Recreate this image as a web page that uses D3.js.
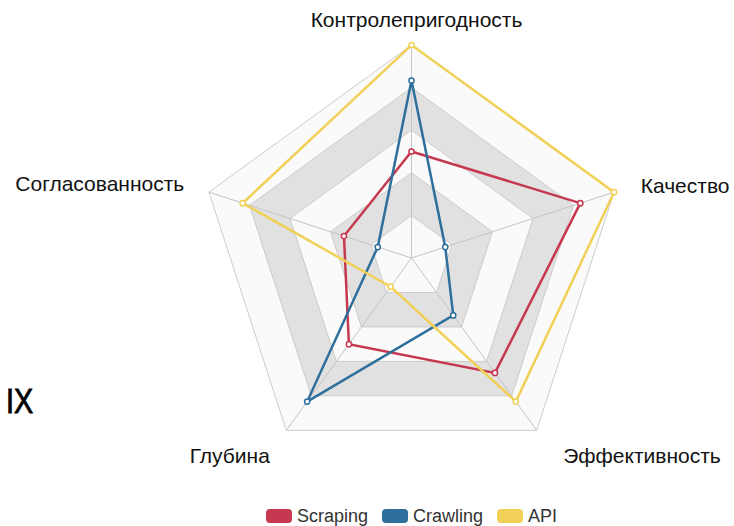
<!DOCTYPE html>
<html>
<head>
<meta charset="utf-8">
<script src="https://cdn.jsdelivr.net/npm/d3@7/dist/d3.min.js"></script>
<style>
  body { margin: 0; background: #fff; }
  svg { display: block; font-family: "Liberation Sans", Arial, sans-serif; }
</style>
</head>
<body>
<div id="chart"></div>
<script>
var axes = ["Контролепригодность", "Качество", "Эффективность", "Глубина", "Согласованность"];
var seriesNames = ["Scraping", "Crawling", "API"];
var scraping = [3, 5, 4, 3, 2];
var crawling = [5, 1, 2, 5, 1];
var api = [6, 6, 5, 1, 5];
var maxValue = 6;
var levels = 5;

var width = 734, height = 526,
    cx = 411.5, cy = 258, radius = 213;

var colors = ["#c5384f", "#2e6f9b", "#f1d058"];
var series = [scraping, crawling, api];

// small nudges so the axis names sit where the original put them
var labelDx = [5, 0, 10, 0, 2],
    labelDy = [3, 2, 3, 3, 0];

var svg = d3.select("#chart").append("svg")
    .attr("width", width)
    .attr("height", height);

var g = svg.append("g")
    .attr("transform", "translate(" + cx + "," + cy + ")");

var r = d3.scaleLinear().domain([0, maxValue]).range([0, radius]);
var angle = d3.scalePoint().domain(d3.range(axes.length + 1)).range([0, 2 * Math.PI]);

function ring(frac) {
  return d3.range(axes.length).map(function(i) {
    return [angle(i), radius * frac];
  });
}

var ringLine = d3.lineRadial()
    .angle(function(d) { return d[0]; })
    .radius(function(d) { return d[1]; })
    .curve(d3.curveLinearClosed);

// bands, outer first
for (var k = levels; k >= 1; k--) {
  g.append("path")
      .attr("d", ringLine(ring(k / levels)))
      .attr("fill", k % 2 === 1 ? "#fafafa" : "#e1e1e1")
      .attr("stroke", "#cccccc")
      .attr("stroke-width", 1);
}

// axis lines + names
axes.forEach(function(name, i) {
  var a = angle(i);
  g.append("line")
      .attr("x1", 0).attr("y1", 0)
      .attr("x2", radius * Math.sin(a))
      .attr("y2", -radius * Math.cos(a))
      .attr("stroke", "#c4c4c4")
      .attr("stroke-width", 1);

  var lr = radius + 28,
      lx = lr * Math.sin(a),
      ly = -lr * Math.cos(a);
  var anchor = Math.abs(lx) < 1 ? "middle" : (lx > 0 ? "start" : "end");
  g.append("text")
      .attr("x", lx + labelDx[i])
      .attr("y", ly + labelDy[i])
      .attr("dy", "0.35em")
      .attr("text-anchor", anchor)
      .attr("font-size", 21)
      .attr("fill", "#111")
      .text(name);
});

var line = d3.lineRadial()
    .angle(function(d, i) { return angle(i); })
    .radius(function(d) { return r(d); })
    .curve(d3.curveLinearClosed);

series.forEach(function(values, s) {
  g.append("path")
      .attr("d", line(values))
      .attr("fill", "none")
      .attr("stroke", colors[s])
      .attr("stroke-width", 2.5);

  g.selectAll(".pt" + s)
      .data(values)
      .enter().append("circle")
      .attr("cx", function(d, i) { return r(d) * Math.sin(angle(i)); })
      .attr("cy", function(d, i) { return -r(d) * Math.cos(angle(i)); })
      .attr("r", 2.6)
      .attr("fill", "#fff")
      .attr("stroke", colors[s])
      .attr("stroke-width", 1.5);
});

// leftover text at the left edge
svg.append("text")
    .attr("x", 6)
    .attr("y", 413)
    .attr("text-anchor", "start")
    .attr("font-size", 35)
    .attr("fill", "#000")
    .attr("stroke", "#000")
    .attr("stroke-width", 0.9)
    .attr("transform", "translate(6,0) scale(0.82,1) translate(-6,0)")
    .text("IX");

// legend
var legendX = [266, 382, 497];
var legend = svg.append("g");
seriesNames.forEach(function(name, i) {
  legend.append("rect")
      .attr("x", legendX[i])
      .attr("y", 509)
      .attr("width", 26)
      .attr("height", 14)
      .attr("rx", 4)
      .attr("fill", colors[i]);
  legend.append("text")
      .attr("x", legendX[i] + 31)
      .attr("y", 516)
      .attr("dy", "0.35em")
      .attr("font-size", 18)
      .attr("fill", "#333")
      .text(name);
});
</script>
</body>
</html>
